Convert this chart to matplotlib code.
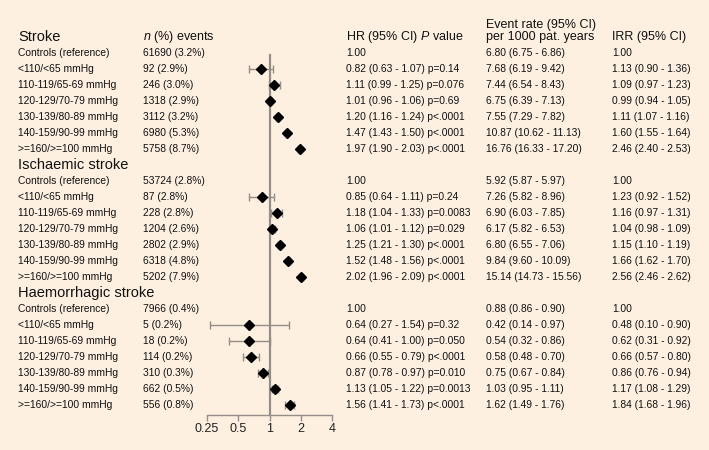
import matplotlib
matplotlib.use("Agg")
import matplotlib.pyplot as plt
import numpy as np

plt.rcParams['font.family'] = ['Liberation Sans', 'DejaVu Sans']
plt.rcParams['mathtext.fontset'] = 'custom'
plt.rcParams['mathtext.rm'] = 'Liberation Sans'
plt.rcParams['mathtext.it'] = 'Liberation Sans:italic'

# data
groups = ['Stroke', 'Ischaemic stroke', 'Haemorrhagic stroke']
categories = ['Controls (reference)', '<110/<65 mmHg', '110-119/65-69 mmHg',
              '120-129/70-79 mmHg', '130-139/80-89 mmHg', '140-159/90-99 mmHg',
              '>=160/>=100 mmHg']

n_events = [
    ['61690 (3.2%)', '92 (2.9%)', '246 (3.0%)', '1318 (2.9%)', '3112 (3.2%)', '6980 (5.3%)', '5758 (8.7%)'],
    ['53724 (2.8%)', '87 (2.8%)', '228 (2.8%)', '1204 (2.6%)', '2802 (2.9%)', '6318 (4.8%)', '5202 (7.9%)'],
    ['7966 (0.4%)', '5 (0.2%)', '18 (0.2%)', '114 (0.2%)', '310 (0.3%)', '662 (0.5%)', '556 (0.8%)'],
]
hr = [
    [1.00, 0.82, 1.11, 1.01, 1.20, 1.47, 1.97],
    [1.00, 0.85, 1.18, 1.06, 1.25, 1.52, 2.02],
    [1.00, 0.64, 0.64, 0.66, 0.87, 1.13, 1.56],
]
hr_lo = [
    [1.00, 0.63, 0.99, 0.96, 1.16, 1.43, 1.90],
    [1.00, 0.64, 1.04, 1.01, 1.21, 1.48, 1.96],
    [1.00, 0.27, 0.41, 0.55, 0.78, 1.05, 1.41],
]
hr_hi = [
    [1.00, 1.07, 1.25, 1.06, 1.24, 1.50, 2.03],
    [1.00, 1.11, 1.33, 1.12, 1.30, 1.56, 2.09],
    [1.00, 1.54, 1.00, 0.79, 0.97, 1.22, 1.73],
]
p_text = [
    ['', 'p=0.14', 'p=0.076', 'p=0.69', 'p<.0001', 'p<.0001', 'p<.0001'],
    ['', 'p=0.24', 'p=0.0083', 'p=0.029', 'p<.0001', 'p<.0001', 'p<.0001'],
    ['', 'p=0.32', 'p=0.050', 'p<.0001', 'p=0.010', 'p=0.0013', 'p<.0001'],
]
event_rate = [
    ['6.80 (6.75 - 6.86)', '7.68 (6.19 - 9.42)', '7.44 (6.54 - 8.43)', '6.75 (6.39 - 7.13)',
     '7.55 (7.29 - 7.82)', '10.87 (10.62 - 11.13)', '16.76 (16.33 - 17.20)'],
    ['5.92 (5.87 - 5.97)', '7.26 (5.82 - 8.96)', '6.90 (6.03 - 7.85)', '6.17 (5.82 - 6.53)',
     '6.80 (6.55 - 7.06)', '9.84 (9.60 - 10.09)', '15.14 (14.73 - 15.56)'],
    ['0.88 (0.86 - 0.90)', '0.42 (0.14 - 0.97)', '0.54 (0.32 - 0.86)', '0.58 (0.48 - 0.70)',
     '0.75 (0.67 - 0.84)', '1.03 (0.95 - 1.11)', '1.62 (1.49 - 1.76)'],
]
irr = [
    ['1.00', '1.13 (0.90 - 1.36)', '1.09 (0.97 - 1.23)', '0.99 (0.94 - 1.05)',
     '1.11 (1.07 - 1.16)', '1.60 (1.55 - 1.64)', '2.46 (2.40 - 2.53)'],
    ['1.00', '1.23 (0.92 - 1.52)', '1.16 (0.97 - 1.31)', '1.04 (0.98 - 1.09)',
     '1.15 (1.10 - 1.19)', '1.66 (1.62 - 1.70)', '2.56 (2.46 - 2.62)'],
    ['1.00', '0.48 (0.10 - 0.90)', '0.62 (0.31 - 0.92)', '0.66 (0.57 - 0.80)',
     '0.86 (0.76 - 0.94)', '1.17 (1.08 - 1.29)', '1.84 (1.68 - 1.96)'],
]
x_ticks = [0.25, 0.5, 1, 2, 4]
x_ticklabels = ['0.25', '0.5', '1', '2', '4']

W, H = 709, 450
bg = '#FDF0E1'
fig = plt.figure(figsize=(W / 100, H / 100), dpi=100, facecolor=bg)

top_px = 37
step = 16
fs = 7.4
fs_col = 9.0
fs_head = 10.5


def fy(py):
    return 1 - py / H


def ftext(px, py, s, **kw):
    fig.text(px / W, fy(py), s, va='center', ha='left', color='#111111', **kw)


# column headers
ftext(143, top_px, r'$\it{n}$ (%) events', fontsize=fs_col)
ftext(346, top_px, r'HR (95% CI) $\it{P}$ value', fontsize=fs_col)
ftext(486, top_px - 12, 'Event rate (95% CI)', fontsize=fs_col)
ftext(486, top_px, 'per 1000 pat. years', fontsize=fs_col)
ftext(612, top_px, 'IRR (95% CI)', fontsize=fs_col)

# forest axes
ax = fig.add_axes([207 / W, fy(415), 125 / W, (415 - top_px) / H])
ax.set_facecolor('none')
ax.set_xscale('log', base=2)
ax.set_xlim(0.25, 4)
ax.set_ylim((415 - top_px) / step, 0)

grey = '#948E87'
ax.plot([1, 1], [1.1, (415 - top_px) / step], color=grey, lw=1.6, zorder=1)

row = 0
for g in range(3):
    ftext(18, top_px + row * step, groups[g], fontsize=fs_head)
    row += 1
    for i, cat in enumerate(categories):
        py = top_px + row * step
        ftext(18, py, cat, fontsize=fs)
        ftext(143, py, n_events[g][i], fontsize=fs)
        hr_s = '%.2f' % hr[g][i]
        if i > 0:
            hr_s += ' (%.2f - %.2f) %s' % (hr_lo[g][i], hr_hi[g][i], p_text[g][i])
        ftext(346, py, hr_s, fontsize=fs)
        ftext(486, py, event_rate[g][i], fontsize=fs)
        ftext(612, py, irr[g][i], fontsize=fs)
        if i > 0:
            ax.errorbar(hr[g][i], row,
                        xerr=[[hr[g][i] - hr_lo[g][i]], [hr_hi[g][i] - hr[g][i]]],
                        fmt='none', ecolor=grey, elinewidth=1.0, capsize=3, capthick=1.0, zorder=2)
            ax.plot(hr[g][i], row, marker='D', color='black', markersize=4.8, ls='none', zorder=3)
        row += 1

for s in ['top', 'right', 'left']:
    ax.spines[s].set_visible(False)
ax.spines['bottom'].set_color(grey)
ax.spines['bottom'].set_linewidth(1.0)
ax.set_yticks([])
ax.set_xticks(x_ticks)
ax.set_xticklabels(x_ticklabels, fontsize=fs_col)
ax.xaxis.set_minor_locator(matplotlib.ticker.NullLocator())
ax.tick_params(axis='x', which='both', color=grey, length=4, width=1.0, pad=2, labelcolor='#222222')

fig.savefig('out.png', dpi=100, facecolor=bg)
